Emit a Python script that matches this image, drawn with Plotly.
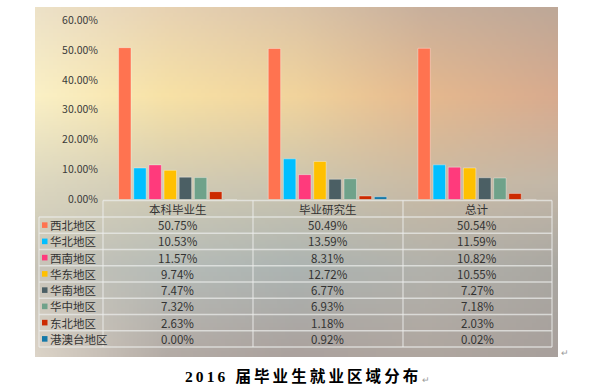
import base64, struct, zlib
import numpy as np
import plotly.graph_objects as go

# ---------------- data ----------------
categories = ["本科毕业生", "毕业研究生", "总计"]
regions = ["西北地区", "华北地区", "西南地区", "华东地区", "华南地区", "华中地区", "东北地区", "港澳台地区"]
undergrad = [50.75, 10.53, 11.57, 9.74, 7.47, 7.32, 2.63, 0.00]
graduate = [50.49, 13.59, 8.31, 12.72, 6.77, 6.93, 1.18, 0.92]
total = [50.54, 11.59, 10.82, 10.55, 7.27, 7.18, 2.03, 0.02]
colors = ["#FF7350", "#00BFFF", "#FF3A7C", "#FFC000", "#4B5F64", "#6FA28A", "#CC2A00", "#1478A8"]
y_ticks = [0, 0.1, 0.2, 0.3, 0.4, 0.5, 0.6]
title_text = "2016 届毕业生就业区域分布"

W, H = 599, 390
def fx(p):
    return p / W
def fy(p):
    return 1 - p / H

# ---------------- background (blurred gradient image) ----------------
ctrl = [
    ["#ede2c8", "#e8d3b3", "#dcc5a8", "#c9b09c", "#bea898"],
    ["#fbf1c6", "#f8e2a6", "#f2d49c", "#e6b98e", "#d9ab8e"],
    ["#ddd8c0", "#d3ccb4", "#cdc6b0", "#cbbba4", "#c4b8a8"],
    ["#c8c4b8", "#b6bcb8", "#acb4b2", "#b2b2ac", "#aaa8a2"],
    ["#dcd4c8", "#b4aca6", "#aba29e", "#b0a7a0", "#a8a09c"],
]
def hex2rgb(h):
    h = h.lstrip("#")
    return [int(h[i:i + 2], 16) for i in (0, 2, 4)]
grid = np.array([[hex2rgb(c) for c in row] for row in ctrl], dtype=float)
gh, gw = grid.shape[:2]
IW, IH = 131, 88
ys = np.linspace(0, gh - 1, IH)
xs = np.linspace(0, gw - 1, IW)
tmp = np.zeros((gh, IW, 3))
for r in range(gh):
    for c in range(3):
        tmp[r, :, c] = np.interp(xs, np.arange(gw), grid[r, :, c])
img = np.zeros((IH, IW, 3))
for j in range(IW):
    for c in range(3):
        img[:, j, c] = np.interp(ys, np.arange(gh), tmp[:, j, c])
img = np.clip(img, 0, 255).astype(np.uint8)

def png_bytes(a):
    h, w = a.shape[:2]
    raw = b"".join(b"\x00" + a[i].tobytes() for i in range(h))
    def chunk(t, d):
        c = struct.pack(">I", len(d)) + t + d
        return c + struct.pack(">I", zlib.crc32(t + d) & 0xffffffff)
    return (b"\x89PNG\r\n\x1a\n" + chunk(b"IHDR", struct.pack(">IIBBBBB", w, h, 8, 2, 0, 0, 0))
            + chunk(b"IDAT", zlib.compress(raw, 9)) + chunk(b"IEND", b""))
bg_uri = "data:image/png;base64," + base64.b64encode(png_bytes(img)).decode()

# ---------------- figure ----------------
fig = go.Figure()
series = [undergrad, graduate, total]
for i, reg in enumerate(regions):
    fig.add_trace(go.Bar(
        x=categories, y=[s[i] / 100 for s in series], name=reg,
        marker=dict(color=colors[i], line=dict(color="rgba(255,255,255,0.35)", width=1)),
        hoverinfo="skip",
    ))

font_cjk = "Noto Sans CJK SC, Noto Sans, sans-serif"
txt_color = "#333333"

fig.update_layout(
    width=W, height=H,
    margin=dict(l=0, r=0, t=0, b=0, autoexpand=False),
    paper_bgcolor="white", plot_bgcolor="rgba(0,0,0,0)",
    barmode="group", bargap=0.19, bargroupgap=0.18,
    showlegend=False,
    font=dict(family=font_cjk, color=txt_color),
    xaxis=dict(domain=[fx(103), fx(552)], showticklabels=False, showgrid=False,
               zeroline=False, showline=False, fixedrange=True, automargin=False),
    yaxis=dict(domain=[fy(199.5), fy(20)], range=[0, 0.6], tickvals=y_ticks,
               tickformat=".2%", showgrid=False, zeroline=False, showline=False,
               tickfont=dict(size=10.5, color="#3a3a3a", family=font_cjk),
               ticks="", ticklabelstandoff=4, fixedrange=True, automargin=False),
    images=[dict(source=bg_uri, xref="paper", yref="paper", x=fx(35), y=fy(7),
                 sizex=fx(558) - fx(35), sizey=350 / H, sizing="stretch",
                 layer="below", xanchor="left", yanchor="top")],
)

# ---------------- data table ----------------
line_col = "rgba(236,238,236,0.7)"
hdr_top, row0 = 200.5, 217.0
row_h = (347.0 - 217.0) / len(regions)
col_x = [103, 253, 403, 552]
left_x = 39
shapes = []
shapes.append(dict(type="line", xref="paper", yref="paper", x0=fx(col_x[0]), x1=fx(col_x[-1]),
                   y0=fy(hdr_top), y1=fy(hdr_top), line=dict(color=line_col, width=1.3)))
for k in range(len(regions) + 1):
    yy = row0 + k * row_h
    shapes.append(dict(type="line", xref="paper", yref="paper", x0=fx(left_x), x1=fx(col_x[-1]),
                       y0=fy(yy), y1=fy(yy), line=dict(color=line_col, width=1.3)))
for cx in col_x:
    shapes.append(dict(type="line", xref="paper", yref="paper", x0=fx(cx), x1=fx(cx),
                       y0=fy(hdr_top), y1=fy(347), line=dict(color=line_col, width=1.3)))
shapes.append(dict(type="line", xref="paper", yref="paper", x0=fx(left_x), x1=fx(left_x),
                   y0=fy(row0), y1=fy(347), line=dict(color=line_col, width=1.3)))
for i, c in enumerate(colors):
    yc = row0 + (i + 0.5) * row_h
    shapes.append(dict(type="rect", xref="paper", yref="paper", x0=fx(42), x1=fx(47.5),
                       y0=fy(yc - 2.8), y1=fy(yc + 2.8), fillcolor=c, line=dict(width=0)))
fig.update_layout(shapes=shapes)

tsize = 11.5
ann = []
for cat in categories:
    ann.append(dict(x=cat, xref="x", y=fy((hdr_top + row0) / 2), yref="paper", text=cat,
                    showarrow=False, font=dict(size=tsize, color=txt_color), xanchor="center", yanchor="middle"))
for i, reg in enumerate(regions):
    yc = fy(row0 + (i + 0.5) * row_h)
    ann.append(dict(x=fx(47.5), xref="paper", y=yc, yref="paper", text=reg, showarrow=False,
                    font=dict(size=tsize, color=txt_color), xanchor="left", yanchor="middle"))
    for cat, s in zip(categories, series):
        ann.append(dict(x=cat, xref="x", y=yc, yref="paper", text=f"{s[i]:.2f}%", showarrow=False,
                        font=dict(size=tsize, color=txt_color), xanchor="center", yanchor="middle"))

# title under the chart (letter-spaced)
spaced = "\u2009".join(list(title_text))
ann.append(dict(x=fx(301), xref="paper", y=fy(376), yref="paper", text="<b>" + spaced + "</b>",
                showarrow=False, font=dict(size=15.5, color="#000000",
                                           family="Liberation Serif, Noto Sans CJK SC, serif"),
                xanchor="center", yanchor="middle"))
ann.append(dict(x=fx(420), xref="paper", y=fy(379), yref="paper", text="↵", showarrow=False,
                font=dict(size=9, color="#9a9a9a"), xanchor="left", yanchor="middle"))
ann.append(dict(x=fx(559), xref="paper", y=fy(352), yref="paper", text="↵", showarrow=False,
                font=dict(size=9, color="#9a9a9a"), xanchor="left", yanchor="middle"))
fig.update_layout(annotations=ann)

css_js = ("var s=document.createElement('style');"
          "s.textContent='html,body{margin:0!important;padding:0!important;overflow:hidden;"
          "width:599px;height:390px;}';document.head.appendChild(s);")
fig.write_html("out.html", config={"displayModeBar": False, "staticPlot": True},
               post_script=css_js)
